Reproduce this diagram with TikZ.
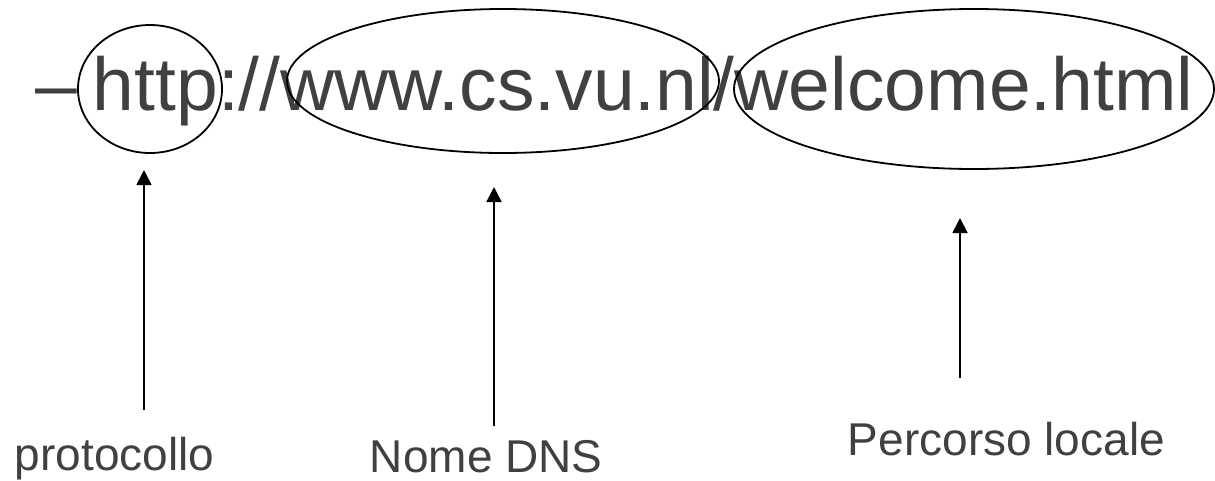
\documentclass[tikz,border=0pt]{standalone}
\usepackage{fontspec}
\setmainfont{Liberation Sans}
\usetikzlibrary{arrows.meta}

\begin{document}
\begin{tikzpicture}[x=1pt,y=-1pt,line width=1.8pt,>={Triangle[length=15pt,width=15pt]},
  urltext/.style={black!75,anchor=base west,inner sep=0pt,font=\fontsize{75}{80}\selectfont},
  lbl/.style={black!75,anchor=base west,inner sep=0pt,font=\fontsize{46}{52}\selectfont}]
  \useasboundingbox (0,0) rectangle (1215,480);
  % indirizzo
  \node[urltext] (dash) at (35,110) {–};
  \node[urltext] (url) at (92,110) {http://www.cs.vu.nl/welcome.html};
  % ellissi attorno alle parti
  \draw (150,89) ellipse [x radius=72pt,y radius=64pt];
  \draw (503,81) ellipse [x radius=216pt,y radius=72pt];
  \draw (974,89) ellipse [x radius=240pt,y radius=80pt];
  % etichette
  \node[lbl] (proto) at (14,470) {protocollo};
  \node[lbl] (dns) at (369,472) {Nome DNS};
  \node[lbl] (path) at (847,455) {Percorso locale};
  % frecce
  \coordinate (a0) at (144,410); \coordinate (a1) at (144,170);
  \coordinate (b0) at (494,426); \coordinate (b1) at (494,187);
  \coordinate (c0) at (960,378); \coordinate (c1) at (960,218);
  \draw[->] (a0) -- (a1);
  \draw[->] (b0) -- (b1);
  \draw[->] (c0) -- (c1);
\end{tikzpicture}
\end{document}
